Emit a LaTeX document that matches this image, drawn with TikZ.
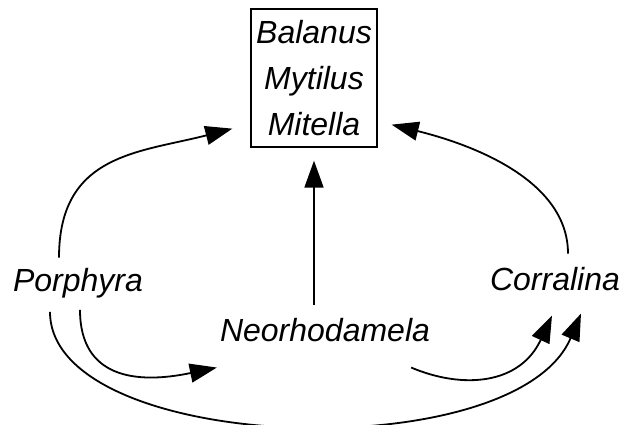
\documentclass[tikz,border=0pt]{standalone}
\usepackage{fontspec}
\setmainfont{Liberation Sans}
\usepackage{tikz}
\usetikzlibrary{arrows.meta, positioning, calc}

\begin{document}
\begin{tikzpicture}[
  x=1pt, y=1pt,
  taxon/.style={font=\itshape\fontsize{32}{46}\selectfont, inner sep=3pt},
  group/.style={taxon, draw, line width=1.3pt, align=center,
                minimum width=126pt, minimum height=138pt},
  flow/.style={-{Triangle[length=27pt, width=19pt]}, line width=1.8pt}
]
  \useasboundingbox (0,0) rectangle (621,424);

  \node[group] (community) at (314,346) {Balanus\\Mytilus\\Mitella};
  \node[taxon, anchor=base] (porphyra) at (78,133) {Porphyra};
  \node[taxon, anchor=base] (neorhodamela) at (325,83) {Neorhodamela};
  \node[taxon, anchor=base] (corralina) at (555,134) {Corralina};

  \draw[flow] ([xshift=-19pt,yshift=7pt]porphyra.north)
       .. controls +(0,104) and +(-93,-24)
       .. ([xshift=-18pt,yshift=19pt]community.south west);
  \draw[flow] ([xshift=13pt,yshift=10pt]corralina.north)
       .. controls +(0,70) and +(89,-22)
       .. ([xshift=14pt,yshift=23pt]community.south east);
  \draw[flow, shorten <=10pt, shorten >=13pt]
       (community.south |- neorhodamela.north) -- (community.south);

  \draw[flow] ([xshift=2pt,yshift=-9pt]porphyra.south)
       .. controls +(0,-68) and +(-81,-17)
       .. ([yshift=-23pt]neorhodamela.south west);
  \draw[flow] ([xshift=-22pt,yshift=-23pt]neorhodamela.south east)
       .. controls +(52,-22) and +(-32,-69)
       .. ([xshift=-3pt,yshift=-22pt]corralina.south);
  \draw[flow] ([xshift=-28pt,yshift=-11pt]porphyra.south)
       .. controls +(0,-142) and +(-66,-156)
       .. ([xshift=26pt,yshift=-20pt]corralina.south);
\end{tikzpicture}
\end{document}
